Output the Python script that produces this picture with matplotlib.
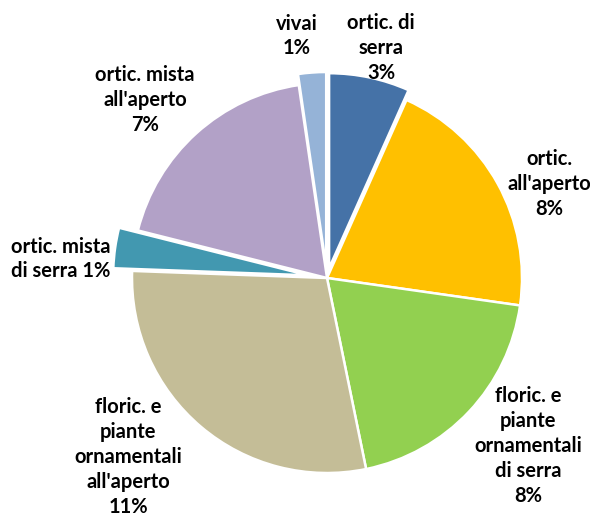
import matplotlib
matplotlib.use("Agg")
import matplotlib.pyplot as plt

# shares (slice sizes) and the printed labels
categories = ["ortic. di\nserra", "ortic.\nall'aperto",
              "floric. e\npiante\nornamentali\ndi serra",
              "floric. e\npiante\nornamentali\nall'aperto",
              "ortic. mista\ndi serra", "ortic. mista\nall'aperto", "vivai"]
values = [2.6, 8.0, 7.6, 11.2, 1.3, 7.3, 0.9]
pct_labels = ["3%", "8%", "8%", "11%", "1%", "7%", "1%"]
colors = ["#4572A7", "#FFC000", "#92D050", "#C4BD97", "#4298B0", "#B2A1C7", "#95B3D7"]
explode = [10, 0, 0, 0, 19, 0, 11]

W, H = 590, 516
fig = plt.figure(figsize=(W / 100, H / 100), dpi=100)
ax = fig.add_axes([0, 0, 1, 1])

cx, cy, r = 327, H - 278, 195
ax.pie(values, colors=colors, explode=explode, startangle=90, counterclock=False,
       center=(cx, cy), radius=r, frame=True,
       wedgeprops=dict(edgecolor="white", linewidth=1.8))
ax.set_xlim(0, W)
ax.set_ylim(0, H)
ax.set_aspect("equal")
ax.axis("off")

# label positions (pixel coords, top-down) for each slice
label_pos = [(381, 48), (549, 184), (528, 446), (128, 457), (61, 259), (145, 100), (297, 36)]
font = dict(family=["Lato", "DejaVu Sans"], fontsize=14.5, fontweight="bold", color="black")
for cat, pct, (lx, ly) in zip(categories, pct_labels, label_pos):
    if cat == "ortic. mista\ndi serra":
        txt = "ortic. mista\ndi serra " + pct
    else:
        txt = cat + "\n" + pct
    ax.text(lx, H - ly, txt, ha="center", va="center", linespacing=1.3, **font)

fig.savefig("out.png", dpi=100)
